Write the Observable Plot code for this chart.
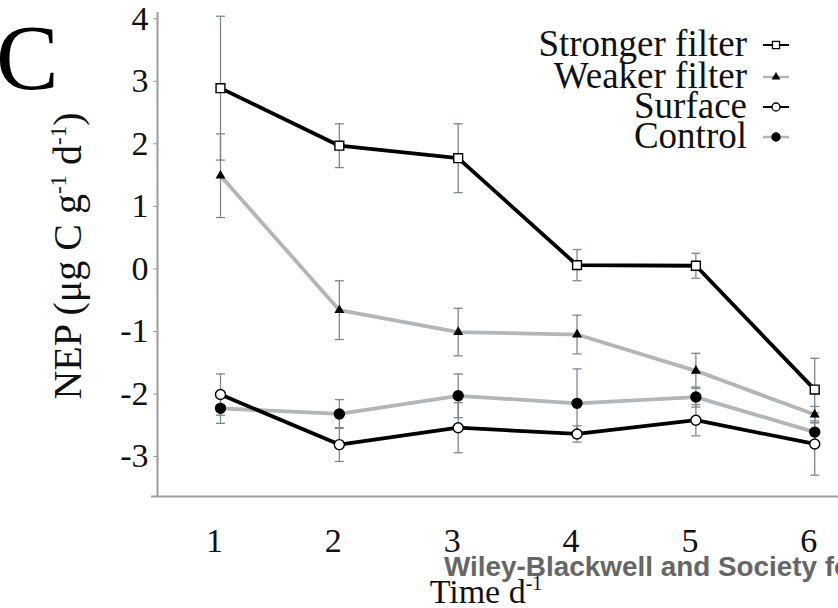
<!DOCTYPE html>
<html>
<head>
<meta charset="utf-8">
<script src="https://cdn.jsdelivr.net/npm/d3@7"></script>
<script src="https://cdn.jsdelivr.net/npm/@observablehq/plot@0.6"></script>
<style>
  html, body { margin: 0; padding: 0; background: #fff; }
  #chart { width: 838px; height: 608px; overflow: hidden; }
</style>
</head>
<body>
<div id="chart"></div>
<script>
// ---- data ----
const days = [1, 2, 3, 4, 5, 6];
const seriesNames = ["Stronger filter", "Weaker filter", "Surface", "Control"];
const strongerMean = [2.89, 1.97, 1.77, 0.06, 0.05, -1.93];
const strongerErr  = [1.15, 0.35, 0.55, 0.25, 0.20, 0.50];
const weakerMean   = [1.49, -0.66, -1.01, -1.05, -1.63, -2.33];
const weakerErr    = [0.67, 0.47, 0.38, 0.31, 0.28, 0.13];
const surfaceMean  = [-2.01, -2.81, -2.54, -2.64, -2.42, -2.80];
const surfaceErr   = [0.33, 0.27, 0.40, 0.13, 0.25, 0.50];
const controlMean  = [-2.23, -2.32, -2.03, -2.15, -2.05, -2.61];
const controlErr   = [0.24, 0.23, 0.35, 0.55, 0.16, 0.15];
const yTicks = [-3, -2, -1, 0, 1, 2, 3, 4];
const xTicks = [1, 2, 3, 4, 5, 6];

// ---- styles ----
const lineColors = ["#000000", "#b3b6b8", "#000000", "#b3b6b8"];
const symbols = ["square", "triangle", "circle", "circle"];
const symbolFill = ["#ffffff", "#000000", "#ffffff", "#000000"];
const barColor = "#7a8995";
const axisColor = "#9b9b9b";
const serif = "'Liberation Serif', 'Times New Roman', serif";

const means = [strongerMean, weakerMean, surfaceMean, controlMean];
const errs = [strongerErr, weakerErr, surfaceErr, controlErr];
const rows = [];
seriesNames.forEach((s, i) => {
  days.forEach((d, j) => {
    rows.push({series: s, idx: i, day: d, mean: means[i][j], err: errs[i][j]});
  });
});

const capSymbol = {
  draw(context, size) {
    const w = 4.5;
    context.moveTo(-w, 0);
    context.lineTo(w, 0);
  }
};

const xDomain = [0.47, 6.2];
const yDomain = [-3.64, 4.10];

const markerMarks = seriesNames.map((s, i) =>
  Plot.dot(rows.filter(r => r.idx === i), {
    x: "day", y: "mean",
    symbol: () => symbols[i],
    r: symbols[i] === "triangle" ? 2.8 : 5,
    fill: symbolFill[i],
    stroke: "#000",
    strokeWidth: 1.4
  })
);

const svg = Plot.plot({
  width: 838,
  height: 608,
  marginLeft: 157,
  marginTop: 12,
  marginRight: 0,
  marginBottom: 112,
  x: {domain: xDomain},
  y: {domain: yDomain},
  color: {domain: seriesNames, range: lineColors},
  style: {background: "#fff", fontFamily: serif, color: "#111"},
  marks: [
    Plot.axisY({ticks: yTicks, tickFormat: d => String(d), tickSize: 4, tickPadding: 5,
      fontSize: 34, stroke: axisColor, fill: "#111", label: null}),
    Plot.axisX({ticks: xTicks, tickFormat: d => String(d), tickSize: 0, tickPadding: 31,
      fontSize: 34, fill: "#111", dx: -6, label: null}),
    Plot.ruleX([xDomain[0]], {stroke: axisColor, strokeWidth: 2}),
    Plot.ruleY([yDomain[0]], {stroke: axisColor, strokeWidth: 2, insetLeft: -6}),
    // gray lines first, then black
    Plot.line(rows.filter(r => lineColors[r.idx] !== "#000000"), {x: "day", y: "mean", z: "series", stroke: "series", strokeWidth: 3.8}),
    Plot.line(rows.filter(r => lineColors[r.idx] === "#000000"), {x: "day", y: "mean", z: "series", stroke: "series", strokeWidth: 3.8}),
    // error bars
    Plot.ruleX(rows, {x: "day", y1: d => d.mean - d.err, y2: d => d.mean + d.err, stroke: barColor, strokeWidth: 1.3}),
    Plot.dot(rows, {x: "day", y: d => d.mean + d.err, symbol: capSymbol, fill: "none", stroke: barColor, strokeWidth: 1.3}),
    Plot.dot(rows, {x: "day", y: d => d.mean - d.err, symbol: capSymbol, fill: "none", stroke: barColor, strokeWidth: 1.3}),
    ...markerMarks
  ]
});

document.getElementById("chart").appendChild(svg);

// ---- annotations: panel letter, axis titles, watermark, legend ----
const g = d3.select(svg).append("g").attr("text-anchor", "start");

g.append("text").attr("x", -4).attr("y", 89).attr("text-anchor", "start")
  .attr("font-family", serif).attr("font-size", 94).attr("fill", "#000").text("C");

const yt = g.append("text")
  .attr("transform", "translate(81,256) rotate(-90)")
  .attr("text-anchor", "middle")
  .attr("font-family", serif).attr("font-size", 40).attr("fill", "#111");
yt.append("tspan").text("NEP (\u03BCg C g");
yt.append("tspan").attr("dy", -15).attr("font-size", 23).text("-1");
yt.append("tspan").attr("dy", 15).text(" d");
yt.append("tspan").attr("dy", -15).attr("font-size", 23).text("-1");
yt.append("tspan").attr("dy", 15).text(")");

g.append("text").attr("x", 444).attr("y", 576).attr("text-anchor", "start")
  .attr("font-family", "'Liberation Sans', Arial, sans-serif")
  .attr("font-weight", "bold").attr("font-size", 28).attr("fill", "#666")
  .attr("textLength", 418).attr("lengthAdjust", "spacingAndGlyphs")
  .text("Wiley-Blackwell and Society for");

const xt = g.append("text")
  .attr("x", 486).attr("y", 603)
  .attr("text-anchor", "middle")
  .attr("font-family", serif).attr("font-size", 34).attr("fill", "#111");
xt.append("tspan").text("Time d");
xt.append("tspan").attr("dy", -13).attr("font-size", 20).text("-1");

// legend
const legendY = [45, 77, 107, 137];
const legendLineW = [2, 2.5, 2, 2.5];
const legendR = [4, 2.4, 4, 4];
seriesNames.forEach((s, i) => {
  const cy = legendY[i];
  g.append("text").attr("x", 747).attr("y", cy + 11)
    .attr("text-anchor", "end")
    .attr("font-family", serif).attr("font-size", 37).attr("fill", "#111").text(s);
  g.append("line").attr("x1", 763).attr("x2", 789).attr("y1", cy).attr("y2", cy)
    .attr("stroke", lineColors[i]).attr("stroke-width", legendLineW[i]);
  const sym = symbols[i] === "square" ? d3.symbolSquare : symbols[i] === "triangle" ? d3.symbolTriangle : d3.symbolCircle;
  g.append("path")
    .attr("d", d3.symbol(sym, legendR[i] * legendR[i] * Math.PI)())
    .attr("transform", `translate(776,${cy})`)
    .attr("fill", symbolFill[i]).attr("stroke", "#000").attr("stroke-width", 1.3);
});
</script>
</body>
</html>
